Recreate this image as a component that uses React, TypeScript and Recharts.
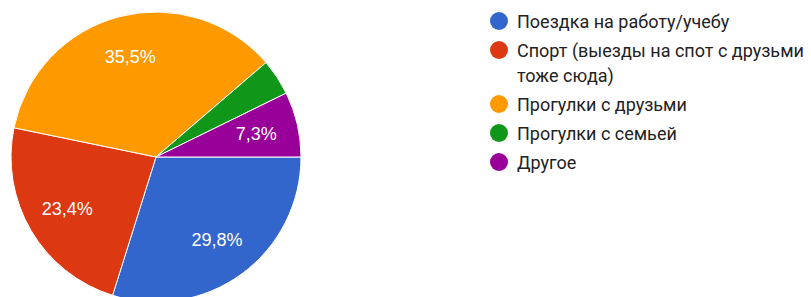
import { PieChart, Pie, Cell, Legend } from 'recharts';

const categories = [
  'Поездка на работу/учебу',
  'Спорт (выезды на спот с друзьми тоже сюда)',
  'Прогулки с друзьми',
  'Прогулки с семьей',
  'Другое',
];
const counts = [37, 29, 44, 5, 9];
const colors = ['#3366cc', '#dc3912', '#ff9900', '#109618', '#990099'];

const data = categories.map((name, i) => ({ name, value: counts[i] }));

const RADIAN = Math.PI / 180;
const LABEL_FONT = '"Liberation Sans", Arial, sans-serif';
const LEGEND_FONT = 'Roboto, "Liberation Sans", Arial, sans-serif';

const renderLabel = (props: any) => {
  const { cx, cy, midAngle, outerRadius, percent } = props;
  if (percent < 0.05) return null;
  const r = outerRadius * 0.71;
  const x = cx + r * Math.cos(-midAngle * RADIAN);
  const y = cy + r * Math.sin(-midAngle * RADIAN);
  return (
    <text
      x={x}
      y={y}
      fill="#ffffff"
      textAnchor="middle"
      dominantBaseline="central"
      fontSize={18}
      fontFamily={LABEL_FONT}
    >
      {(percent * 100).toFixed(1).replace('.', ',') + '%'}
    </text>
  );
};

const renderLegend = () => (
  <div style={{ fontFamily: LEGEND_FONT, fontSize: 18, color: '#222' }}>
    {categories.map((c, i) => (
      <div key={c} style={{ display: 'flex', alignItems: 'flex-start', marginBottom: 4 }}>
        <span
          style={{
            width: 18,
            height: 18,
            borderRadius: '50%',
            background: colors[i],
            marginTop: 3.5,
            marginRight: 9,
            flexShrink: 0,
          }}
        />
        <span style={{ width: 292, lineHeight: '25px' }}>{c}</span>
      </div>
    ))}
  </div>
);

export default function App() {
  return (
    <div style={{ position: 'absolute', left: 0, top: 0, width: 811, height: 297, background: '#fff' }}>
      <PieChart width={811} height={297} margin={{ top: 0, right: 0, bottom: 0, left: 0 }}>
        <Pie
          data={data}
          dataKey="value"
          nameKey="name"
          cx={156}
          cy={157}
          outerRadius={145}
          startAngle={0}
          endAngle={-360}
          stroke="#ffffff"
          strokeWidth={1}
          labelLine={false}
          label={renderLabel}
          isAnimationActive={false}
        >
          {data.map((d, i) => (
            <Cell key={d.name} fill={colors[i]} />
          ))}
        </Pie>
        <Legend
          content={renderLegend}
          wrapperStyle={{ position: 'absolute', left: 490, top: 8.5, width: 321 }}
        />
      </PieChart>
    </div>
  );
}
